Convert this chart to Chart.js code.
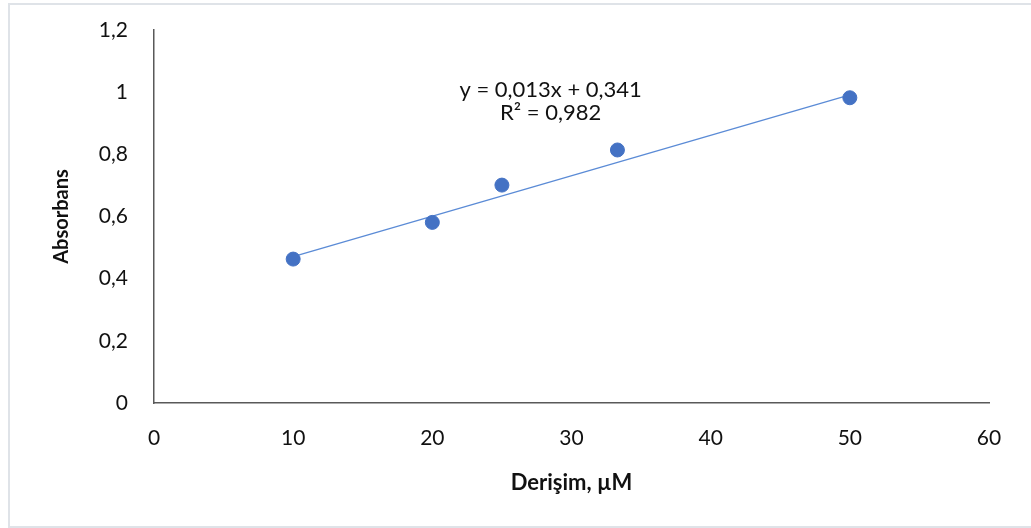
<!DOCTYPE html>
<html>
<head>
<meta charset="utf-8">
<script src="https://cdn.jsdelivr.net/npm/chart.js@4"></script>
<style>
  html, body { margin: 0; padding: 0; background: #ffffff; }
  #wrap { position: relative; width: 1031px; height: 528px; }
  #frame {
    position: absolute; left: 8px; top: 3px; width: 1030px; height: 521px;
    border: 2px solid #dfe3e8; border-right: none; pointer-events: none;
  }
</style>
</head>
<body>
<div id="wrap">
  <canvas id="chart" width="1031" height="528"></canvas>
  <div id="frame"></div>
</div>
<script>
// measured points
const concentrations = [10, 20, 25, 33.3, 50];
const absorbance = [0.463, 0.581, 0.701, 0.814, 0.982];

// linear trendline (ends)
const trendX = [10, 50];
const trendY = [0.471, 0.991];
const equationLines = ["y = 0,013x + 0,341", "R² = 0,982"];

const xTitle = "Derişim, µM";
const yTitle = "Absorbans";

const fontFamily = "Lato, 'Open Sans', sans-serif";

const commaNum = (v) => String(Math.round(v * 10) / 10).replace(".", ",");

const equationLabel = {
  id: "equationLabel",
  afterDatasetsDraw(chart) {
    const { ctx, scales: { x, y } } = chart;
    ctx.save();
    ctx.font = "22px " + fontFamily;
    ctx.fillStyle = "#111111";
    ctx.textAlign = "center";
    ctx.textBaseline = "middle";
    const cx = x.getPixelForValue(28.5);
    ctx.fillText(equationLines[0], cx, y.getPixelForValue(1.007));
    ctx.fillText(equationLines[1], cx, y.getPixelForValue(0.933));
    ctx.restore();
  },
};

Chart.defaults.font.family = fontFamily;
Chart.defaults.color = "#111111";

new Chart(document.getElementById("chart"), {
  type: "scatter",
  data: {
    datasets: [
      {
        type: "line",
        label: "trend",
        data: trendX.map((v, i) => ({ x: v, y: trendY[i] })),
        borderColor: "#5b8bd6",
        borderWidth: 1.3,
        pointRadius: 0,
        fill: false,
        order: 2,
      },
      {
        label: "Absorbans",
        data: concentrations.map((v, i) => ({ x: v, y: absorbance[i] })),
        backgroundColor: "#4472c4",
        borderColor: "#4472c4",
        pointRadius: 7,
        pointHoverRadius: 7,
        order: 1,
      },
    ],
  },
  plugins: [equationLabel],
  options: {
    responsive: false,
    animation: false,
    layout: { padding: { top: 30, right: 42, left: 0, bottom: 0 } },
    plugins: {
      legend: { display: false },
      tooltip: { enabled: false },
    },
    scales: {
      x: {
        type: "linear",
        min: 0,
        max: 60,
        grid: { display: false, drawTicks: false },
        border: { display: true, color: "#595959", width: 1.5 },
        ticks: { stepSize: 10, padding: 23, font: { size: 21 }, maxRotation: 0 },
        title: {
          display: true,
          text: xTitle,
          font: { size: 22, weight: "bold" },
          padding: { top: 0, bottom: 32 },
        },
        afterFit(scale) { scale.height = 125; },
      },
      y: {
        min: 0,
        max: 1.2,
        grid: { display: false, drawTicks: false },
        border: { display: true, color: "#595959", width: 1.5 },
        ticks: {
          stepSize: 0.2,
          padding: 26,
          font: { size: 21 },
          callback: (v) => commaNum(v),
        },
        title: {
          display: true,
          text: yTitle,
          font: { size: 20, weight: "bold" },
          padding: { top: 50, bottom: 0 },
        },
        afterFit(scale) {
          scale.width = 154;
          // tick padding would otherwise push the plot top down
          scale.paddingTop = 0;
          scale.paddingBottom = 0;
        },
      },
    },
  },
});
</script>
</body>
</html>
